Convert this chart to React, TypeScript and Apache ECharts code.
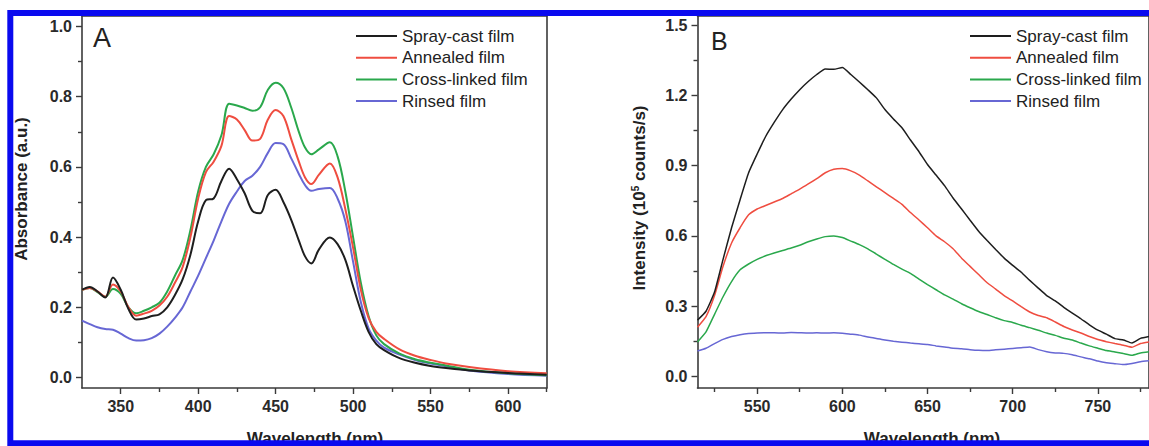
import React, { useEffect, useRef } from "react";
import * as echarts from "echarts";

// ---------- Panel A: absorbance ----------
const wavelengthsA = [
  325, 330, 335, 340, 345, 350, 355, 360, 365, 370, 375, 380, 385, 390, 395, 400,
  405, 410, 415, 420, 425, 430, 435, 440, 445, 450, 455, 460, 465, 469, 473, 478,
  485, 490, 495, 500, 505, 510, 515, 520, 530, 540, 550, 560, 575, 600, 625,
];
const sprayA = [
  0.25, 0.258, 0.245, 0.228, 0.285, 0.25, 0.195, 0.165, 0.168, 0.175, 0.18, 0.2, 0.235, 0.28, 0.35, 0.445,
  0.505, 0.51, 0.56, 0.595, 0.565, 0.525, 0.475, 0.468, 0.52, 0.535, 0.5, 0.45, 0.39, 0.345, 0.325, 0.365,
  0.399, 0.38, 0.335, 0.26, 0.19, 0.13, 0.095, 0.078, 0.055, 0.042, 0.033, 0.027, 0.02, 0.013, 0.008,
];
const annealedA = [
  0.25, 0.255, 0.245, 0.23, 0.265, 0.245, 0.2, 0.176, 0.182, 0.19, 0.205, 0.23, 0.27, 0.315, 0.4, 0.51,
  0.585, 0.615, 0.66, 0.745, 0.735, 0.705, 0.675, 0.68, 0.735, 0.762, 0.745, 0.68, 0.615, 0.57, 0.551, 0.578,
  0.61, 0.57, 0.48, 0.37, 0.25, 0.17, 0.13, 0.11, 0.08, 0.062, 0.05, 0.04, 0.03, 0.018, 0.012,
];
const crosslinkedA = [
  0.25, 0.255, 0.243, 0.23, 0.252, 0.238, 0.2, 0.183, 0.19, 0.2, 0.213, 0.245, 0.29, 0.335, 0.42, 0.53,
  0.6, 0.636, 0.69, 0.78, 0.775, 0.768, 0.76, 0.77, 0.82, 0.84, 0.825, 0.77, 0.7, 0.655, 0.636, 0.65,
  0.67, 0.63, 0.53, 0.4, 0.27, 0.175, 0.12, 0.095, 0.068, 0.052, 0.042, 0.034, 0.022, 0.012, 0.006,
];
const rinsedA = [
  0.162, 0.152, 0.143, 0.138, 0.136, 0.125, 0.112, 0.105, 0.106, 0.112, 0.125, 0.145, 0.17, 0.2, 0.245, 0.29,
  0.34, 0.39, 0.445, 0.495, 0.53, 0.56, 0.575, 0.6, 0.64, 0.668, 0.665, 0.625, 0.58, 0.548, 0.532, 0.537,
  0.54, 0.51, 0.445, 0.33, 0.215, 0.14, 0.105, 0.085, 0.065, 0.05, 0.04, 0.032, 0.02, 0.01, 0.005,
];
const xMajorA = [350, 400, 450, 500, 550, 600];
const xMinorA = [375, 425, 475, 525, 575, 625];
const yMajorA = [0, 0.2, 0.4, 0.6, 0.8, 1.0];
const yMinorA = [0.1, 0.3, 0.5, 0.7, 0.9];

// ---------- Panel B: emission intensity ----------
const wavelengthsB = [
  515, 520, 525, 530, 535, 540, 545, 550, 555, 560, 565, 570, 575, 580, 585, 590, 595, 600,
  605, 610, 615, 620, 625, 630, 635, 640, 645, 650, 655, 660, 665, 670, 675, 680, 685, 690,
  695, 700, 705, 710, 715, 720, 725, 730, 735, 740, 745, 750, 755, 760, 765, 770, 775, 780,
];
const sprayB = [
  0.24, 0.278, 0.36, 0.5, 0.635, 0.755, 0.87, 0.95, 1.025, 1.085, 1.14, 1.185, 1.225, 1.26, 1.29, 1.313, 1.312, 1.32,
  1.29, 1.258, 1.225, 1.19, 1.14, 1.1, 1.062, 1.01, 0.96, 0.905, 0.86, 0.815, 0.762, 0.715, 0.667, 0.62, 0.58, 0.542,
  0.505, 0.474, 0.445, 0.41, 0.377, 0.345, 0.322, 0.295, 0.27, 0.246, 0.22, 0.197, 0.18, 0.161, 0.155, 0.142, 0.162, 0.17,
];
const annealedB = [
  0.21, 0.255, 0.345, 0.47, 0.57, 0.635, 0.69, 0.715, 0.73, 0.745, 0.76, 0.78, 0.8, 0.822, 0.845, 0.87, 0.885, 0.888,
  0.878, 0.86, 0.835, 0.81, 0.785, 0.76, 0.735, 0.7, 0.668, 0.635, 0.6, 0.575, 0.545, 0.505, 0.47, 0.435, 0.4, 0.373,
  0.345, 0.322, 0.298, 0.275, 0.26, 0.25, 0.232, 0.213, 0.198, 0.185, 0.17, 0.157, 0.148, 0.14, 0.133, 0.124, 0.14, 0.147,
];
const crosslinkedB = [
  0.147, 0.19, 0.265, 0.34, 0.405, 0.455, 0.48, 0.5, 0.515, 0.527, 0.538, 0.548, 0.56, 0.575, 0.587, 0.597, 0.6, 0.593,
  0.578, 0.563, 0.545, 0.522, 0.5, 0.478, 0.458, 0.44, 0.415, 0.392, 0.37, 0.348, 0.33, 0.31, 0.293, 0.277, 0.264, 0.25,
  0.238, 0.23, 0.218, 0.208, 0.197, 0.185, 0.175, 0.163, 0.155, 0.142, 0.13, 0.12, 0.11, 0.104, 0.097, 0.09, 0.1, 0.105,
];
const rinsedB = [
  0.108, 0.12, 0.14, 0.158, 0.17, 0.178, 0.183, 0.185, 0.186, 0.186, 0.185, 0.187, 0.186, 0.185, 0.186, 0.185, 0.186, 0.184,
  0.18, 0.176, 0.168, 0.162, 0.155, 0.15, 0.146, 0.142, 0.139, 0.136, 0.13, 0.125, 0.12, 0.118, 0.114, 0.111, 0.11, 0.113,
  0.116, 0.119, 0.122, 0.125, 0.114, 0.105, 0.1, 0.098, 0.092, 0.083, 0.075, 0.065, 0.058, 0.054, 0.05, 0.055, 0.062, 0.066,
];
const xMajorB = [550, 600, 650, 700, 750];
const xMinorB = [525, 575, 625, 675, 725, 775];
const yMajorB = [0, 0.3, 0.6, 0.9, 1.2, 1.5];
const yMinorB = [0.15, 0.45, 0.75, 1.05, 1.35];

const seriesNames = ["Spray-cast film", "Annealed film", "Cross-linked film", "Rinsed film"];
const seriesColors = ["#1e1e1e", "#ef4d40", "#2aa84c", "#6767d4"];

const FONT = "'Liberation Sans', Arial, Helvetica, sans-serif";
const AXIS_COLOR = "#3a3a3a";

function zip(xs: number[], ys: number[]) {
  return xs.map((x, i) => [x, ys[i]]);
}

function mainX(gridIndex: number, min: number, max: number, major: number[]) {
  return {
    type: "value", gridIndex, min, max, position: "bottom",
    axisLine: { show: true, onZero: false, lineStyle: { color: AXIS_COLOR, width: 1.6 } },
    axisTick: { show: true, inside: false, length: 6, customValues: major, lineStyle: { color: AXIS_COLOR, width: 1.4 } },
    axisLabel: { show: true, customValues: major, margin: 10, fontSize: 16, fontWeight: "bold", color: "#2a2a2a", fontFamily: FONT, formatter: (v: number) => String(Math.round(v)) },
    splitLine: { show: false },
  };
}
function minorX(gridIndex: number, min: number, max: number, minor: number[]) {
  return {
    type: "value", gridIndex, min, max, position: "bottom",
    axisLine: { show: false, onZero: false },
    axisTick: { show: true, inside: false, length: 4, customValues: minor, lineStyle: { color: AXIS_COLOR, width: 1.4 } },
    axisLabel: { show: false }, splitLine: { show: false },
  };
}
function frameX(gridIndex: number, min: number, max: number) {
  return {
    type: "value", gridIndex, min, max, position: "top",
    axisLine: { show: true, onZero: false, lineStyle: { color: AXIS_COLOR, width: 1.6 } },
    axisTick: { show: false }, axisLabel: { show: false }, splitLine: { show: false },
  };
}
function mainY(gridIndex: number, min: number, max: number, major: number[]) {
  return {
    type: "value", gridIndex, min, max, position: "left",
    axisLine: { show: true, onZero: false, lineStyle: { color: AXIS_COLOR, width: 1.6 } },
    axisTick: { show: true, inside: false, length: 6, customValues: major, lineStyle: { color: AXIS_COLOR, width: 1.4 } },
    axisLabel: { show: true, customValues: major, margin: 10, fontSize: 16, fontWeight: "bold", color: "#2a2a2a", fontFamily: FONT, formatter: (v: number) => v.toFixed(1) },
    splitLine: { show: false },
  };
}
function minorY(gridIndex: number, min: number, max: number, minor: number[]) {
  return {
    type: "value", gridIndex, min, max, position: "left",
    axisLine: { show: false, onZero: false },
    axisTick: { show: true, inside: false, length: 4, customValues: minor, lineStyle: { color: AXIS_COLOR, width: 1.4 } },
    axisLabel: { show: false }, splitLine: { show: false },
  };
}
function frameY(gridIndex: number, min: number, max: number) {
  return {
    type: "value", gridIndex, min, max, position: "right",
    axisLine: { show: true, onZero: false, lineStyle: { color: AXIS_COLOR, width: 1.6 } },
    axisTick: { show: false }, axisLabel: { show: false }, splitLine: { show: false },
  };
}

export default function App() {
  const ref = useRef<HTMLDivElement>(null);
  useEffect(() => {
    if (!ref.current) return;
    const chart = echarts.init(ref.current, undefined, { renderer: "svg" });
    const A = [sprayA, annealedA, crosslinkedA, rinsedA];
    const B = [sprayB, annealedB, crosslinkedB, rinsedB];
    const series: any[] = [];
    A.forEach((vals, i) => {
      series.push({
        type: "line", name: seriesNames[i], xAxisIndex: 0, yAxisIndex: 0,
        data: zip(wavelengthsA, vals), smooth: 0.35, symbol: "none", showSymbol: false,
        lineStyle: { color: seriesColors[i], width: 2 }, itemStyle: { color: seriesColors[i] },
        z: 10 - i,
      });
    });
    B.forEach((vals, i) => {
      series.push({
        type: "line", name: seriesNames[i], xAxisIndex: 3, yAxisIndex: 3,
        data: zip(wavelengthsB, vals), smooth: 0.15, symbol: "none", showSymbol: false,
        lineStyle: { color: seriesColors[i], width: 1.5 }, itemStyle: { color: seriesColors[i] },
        z: 10 - i,
      });
    });
    const legendBase = {
      orient: "vertical", top: 26, padding: 0, itemWidth: 41, itemHeight: 2, itemGap: 1.7,
      icon: "rect", selectedMode: false, data: seriesNames,
      textStyle: { fontSize: 17, lineHeight: 20, color: "#222", fontFamily: FONT },
    };
    chart.setOption({
      animation: false,
      backgroundColor: "#ffffff",
      grid: [
        { left: 82, top: 16, width: 464.7, height: 372, containLabel: false },
        { left: 697.5, top: 16, width: 457.4, height: 372, containLabel: false },
      ],
      xAxis: [
        mainX(0, 325, 625, xMajorA), minorX(0, 325, 625, xMinorA), frameX(0, 325, 625),
        mainX(1, 515, 780, xMajorB), minorX(1, 515, 780, xMinorB), frameX(1, 515, 780),
      ],
      yAxis: [
        mainY(0, -0.03, 1.03, yMajorA), minorY(0, -0.03, 1.03, yMinorA), frameY(0, -0.03, 1.03),
        mainY(1, -0.05, 1.54, yMajorB), minorY(1, -0.05, 1.54, yMinorB), frameY(1, -0.05, 1.54),
      ],
      legend: [
        { ...legendBase, left: 356 },
        { ...legendBase, left: 970 },
      ],
      series,
      graphic: [
        { type: "text", x: 93, y: 38, style: { text: "A", fontSize: 27, fontFamily: FONT, fill: "#222", verticalAlign: "middle" }, z: 50 },
        { type: "text", x: 711, y: 41, style: { text: "B", fontSize: 25, fontFamily: FONT, fill: "#222", verticalAlign: "middle" }, z: 50 },
        {
          type: "text", x: 21, y: 189, rotation: Math.PI / 2,
          style: { text: "Absorbance (a.u.)", fontSize: 17, fontWeight: "bold", fontFamily: FONT, fill: "#222", align: "center", verticalAlign: "middle" },
          z: 50,
        },
        {
          type: "text", x: 639, y: 198, rotation: Math.PI / 2,
          style: {
            text: "Intensity (10{s|5} counts/s)", fontSize: 17, fontWeight: "bold", fontFamily: FONT, fill: "#222",
            align: "center", verticalAlign: "middle",
            rich: { s: { fontSize: 10, fontWeight: "bold", fontFamily: FONT, fill: "#222", verticalAlign: "top", lineHeight: 17 } },
          },
          z: 50,
        },
        {
          type: "text", x: 315, y: 438,
          style: { text: "Wavelength (nm)", fontSize: 17, fontWeight: "bold", fontFamily: FONT, fill: "#222", align: "center", verticalAlign: "middle" },
          z: 50,
        },
        {
          type: "text", x: 932, y: 438,
          style: { text: "Wavelength (nm)", fontSize: 17, fontWeight: "bold", fontFamily: FONT, fill: "#222", align: "center", verticalAlign: "middle" },
          z: 50,
        },
        {
          type: "rect", shape: { x: 10.3, y: 13, width: 1160, height: 430.3 },
          style: { fill: "none", stroke: "#0a0aef", lineWidth: 6 }, z: 100,
        },
      ],
    });
    return () => chart.dispose();
  }, []);
  return <div ref={ref} style={{ position: "absolute", left: 0, top: 0, width: 1149, height: 446 }} />;
}
